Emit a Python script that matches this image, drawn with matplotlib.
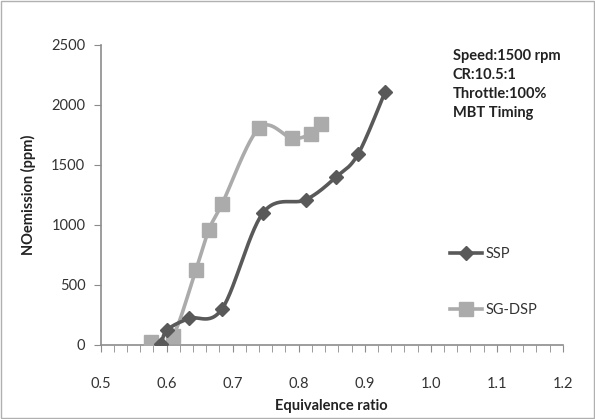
import numpy as np
import matplotlib
matplotlib.use('Agg')
import matplotlib.pyplot as plt
from matplotlib.patches import Rectangle
from matplotlib.ticker import MultipleLocator, FormatStrFormatter

#data
ssp_phi=[0.592,0.601,0.634,0.684,0.746,0.811,0.857,0.890,0.931]
ssp_no=[10,125,220,300,1100,1210,1400,1590,2110]

dsp_phi=[0.576,0.609,0.644,0.664,0.684,0.740,0.790,0.818,0.834]
dsp_no=[20,70,620,958,1175,1806,1722,1758,1839]

x_ticks=[0.5,0.6,0.7,0.8,0.9,1.0,1.1,1.2]
y_ticks=[0,500,1000,1500,2000,2500]

note_lines=['Speed:1500 rpm','CR:10.5:1','Throttle:100%','MBT Timing']

plt.rcParams['font.family']=['Lato','DejaVu Sans']

#------------------------------------------------------------------------------
"""
Excel-like smoothed line: cubic bezier with control points from neighbours
(computed in scaled 'screen' space so the shape follows the picture)
"""
def SmoothLine(x,y,sx=662.0,sy=0.12,n=30):
    
    p=np.column_stack([np.asarray(x)*sx,np.asarray(y)*sy])
    out=[p[0]]
    
    for i in range(len(p)-1):
        
        p0=p[i-1] if i>0 else p[i]
        p1=p[i]
        p2=p[i+1]
        p3=p[i+2] if i+2<len(p) else p[i+1]
        
        c1=p1+(p2-p0)/6.0
        c2=p2-(p3-p1)/6.0
        
        t=np.linspace(0,1,n)[1:,None]
        seg=((1-t)**3)*p1+3*((1-t)**2)*t*c1+3*(1-t)*t**2*c2+t**3*p2
        out.extend(seg)
        
    out=np.array(out)
    
    return out[:,0]/sx,out[:,1]/sy

fig=plt.figure(figsize=(5.95,4.19),dpi=100)
ax=fig.add_axes([0.169,0.177,0.777,0.716])

axis_color='#8c8c8c'
dark='#595959'
light='#ababab'

#SG-DSP first so SSP sits on top
sx,sy=SmoothLine(dsp_phi,dsp_no)
ax.plot(sx,sy,color=light,lw=2.6,solid_capstyle='round',zorder=2)
ax.plot(dsp_phi,dsp_no,ls='none',marker='s',ms=10,color=light,zorder=3)

sx,sy=SmoothLine(ssp_phi,ssp_no)
ax.plot(sx,sy,color=dark,lw=2.6,solid_capstyle='round',zorder=4)
ax.plot(ssp_phi,ssp_no,ls='none',marker='D',ms=7.5,color=dark,zorder=5)

#legend handles
h1,=ax.plot([],[],color=dark,lw=2.6,marker='D',ms=7.5,label='SSP')
h2,=ax.plot([],[],color=light,lw=2.6,marker='s',ms=10,label='SG-DSP')

leg=ax.legend(handles=[h1,h2],loc='upper left',bbox_to_anchor=(0.728,0.37),
              frameon=False,fontsize=10.5,labelspacing=2.9,
              handlelength=2.2,handletextpad=0.2)
for t in leg.get_texts():
    t.set_color('#333333')

ax.set_xlim(0.5,1.2)
ax.set_ylim(0,2500)
ax.set_xticks(x_ticks)
ax.set_yticks(y_ticks)
ax.xaxis.set_minor_locator(MultipleLocator(0.02))
ax.xaxis.set_major_formatter(FormatStrFormatter('%.1f'))

for s in ['top','right']:
    ax.spines[s].set_visible(False)
for s in ['left','bottom']:
    ax.spines[s].set_color(axis_color)
    ax.spines[s].set_linewidth(1.2)

ax.tick_params(axis='both',which='both',color=axis_color,labelsize=10.5,
               labelcolor='#333333',direction='out')
ax.tick_params(axis='x',which='major',length=5,pad=18)
ax.tick_params(axis='x',which='minor',length=5)
ax.tick_params(axis='y',which='major',length=5,pad=6)

ax.set_xlabel('Equivalence ratio',fontsize=10.5,fontweight='bold',
              color='#222222',labelpad=6)
ax.set_ylabel('NOemission (ppm)',fontsize=10.5,fontweight='bold',
              color='#222222',labelpad=11)

#operating conditions
ax.text(0.762,0.985,'\n'.join(note_lines),transform=ax.transAxes,
        fontsize=10.5,fontweight='bold',color='#222222',va='top',ha='left',
        linespacing=1.45)

#thin border round the chart
fig.patches.append(Rectangle((0.002,0.002),0.996,0.995,transform=fig.transFigure,
                             fill=False,edgecolor='#b0b0b0',lw=1))

fig.savefig('out.png',dpi=100)
